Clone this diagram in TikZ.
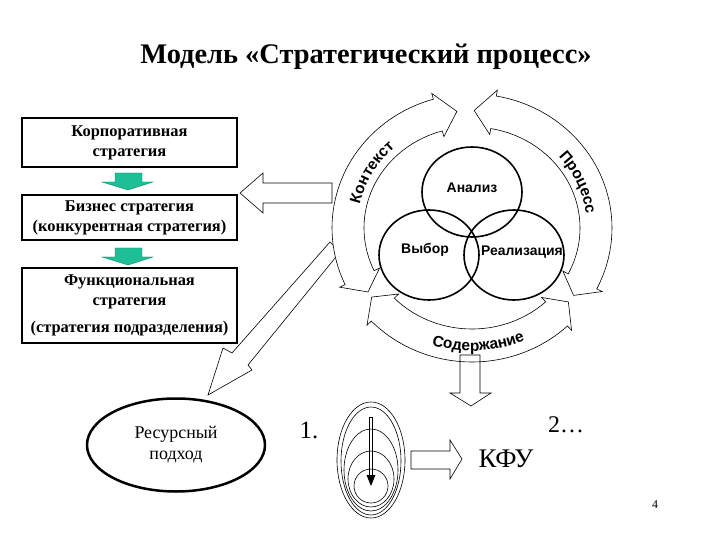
\documentclass[tikz,border=0pt]{standalone}
\usepackage{fontspec}
\setmainfont{Liberation Serif}
\setsansfont{Liberation Sans}
\usetikzlibrary{shapes.geometric,decorations.text}
\definecolor{arrowgreen}{RGB}{30,190,150}
\newcommand{\ringfont}{\sffamily\bfseries\fontsize{15.5}{17}\selectfont}
% double headed band of the ring, angles as seen on the page
\newcommand{\ringarrow}[4]{%
\draw[ringband] (-#1:124 and 117.5) -- (-#2:146 and 140)
  -- plot[domain=#2:#3,samples=40] (-\x:140 and 134)
  -- (-#3:146 and 140) -- (-#4:124 and 117.5) -- (-#3:102 and 95)
  -- plot[domain=#2:#3,samples=40] (-#2-#3+\x:108 and 101)
  -- (-#2:102 and 95) -- cycle;}
\begin{document}
\begin{tikzpicture}[x=1bp,y=-1bp,
  stratbox/.style={draw,line width=2.5bp,minimum width=215bp,align=center,inner sep=0pt,
    font=\fontsize{16.5}{20}\selectfont\bfseries},
  stage/.style={draw,ellipse,line width=1.6bp,minimum width=100bp,minimum height=90bp},
  stagetext/.style={font=\sffamily\bfseries\fontsize{14}{16}\selectfont},
  ringband/.style={draw,fill=white,line width=0.6bp},
  hollow/.style={draw,fill=white,line width=0.6bp},
  greenarrow/.style={fill=arrowgreen,draw=arrowgreen!70!black,line width=0.4bp}]
\useasboundingbox (0,0) rectangle (720,540);
\node[font=\fontsize{28.5}{32}\selectfont\bfseries] (title) at (366,57) {Модель «Стратегический процесс»};
% strategy levels
\node[stratbox,minimum height=49bp] (corp) at (129.5,142.5) {Корпоративная\\стратегия};
\node[stratbox,minimum height=45bp] (bus) at (129.5,217.5) {Бизнес стратегия\\(конкурентная стратегия)};
\node[stratbox,minimum height=75bp] (func) at (129.5,305.5) {Функциональная\\стратегия\\[7bp](стратегия подразделения)};
\foreach \ya in {173,248}{
\draw[greenarrow] (115,\ya) -- (142,\ya) -- (142,\ya+9) -- (153,\ya+9) -- (128,\ya+17)
  -- (102,\ya+9) -- (115,\ya+9) -- cycle;}
% block arrows
\draw[hollow] (240,193) -- (263,173) -- (263,183) -- (332,183) -- (332,203) -- (263,203) -- (263,213) -- cycle;
\draw[hollow] (330,242) -- (232,353) -- (223,348) -- (208,395) -- (252,370) -- (248,365) -- (340,252) -- cycle;
% the ring
\begin{scope}[shift={(472,228)}]
\ringarrow{97}{106}{205}{213}
\ringarrow{-35}{-27}{80}{89}
\ringarrow{216}{224}{313}{321}
\path[decorate,decoration={text along path,text align=center,text={|\ringfont|Контекст}}]
  plot[domain=-185:-115,samples=40] (\x:115 and 109);
\path[decorate,decoration={text along path,text align=center,text={|\ringfont|Процесс}}]
  plot[domain=-60:12,samples=40] (\x:115 and 109);
\path[decorate,decoration={text along path,text align=center,text={|\ringfont|Содержание}}]
  plot[domain=240:306,samples=40] (-\x:130 and 123);
\end{scope}
\node[stage] (anal) at (472,192) {};
\node[stage] (choice) at (429,255) {};
\node[stage] (real) at (514,255) {};
\node[stagetext] (analt) at (472,188) {Анализ};
\node[stagetext] (choicet) at (425,250) {Выбор};
\node[stagetext] (realt) at (522,252) {Реализация};
\draw[hollow,fill=none] (460,355) -- (480,355) -- (480,393) -- (491,393) -- (471,406) -- (450,393) -- (460,393) -- cycle;
% resources and key factors
\node[draw,ellipse,line width=2.5bp,minimum width=178bp,minimum height=93bp,align=center,
  font=\fontsize{18}{21}\selectfont] (res) at (176,445) {Ресурсный\\подход};
\node[font=\fontsize{25}{28}\selectfont] (one) at (309,430) {1.};
\foreach \cy/\rx/\ry in {460/34/58, 461/30/54, 470/27/41, 479/23/28, 486/17/17}{
\draw[line width=0.6bp] (371,\cy) ellipse [x radius=\rx bp, y radius=\ry bp];}
\draw[line width=0.6bp] (369.5,417) rectangle (372.5,476);
\fill (366.5,475) -- (375.5,475) -- (371,486) -- cycle;
\draw[hollow] (411,451) -- (450,451) -- (450,440) -- (462,459) -- (450,479) -- (450,469) -- (411,469) -- cycle;
\node[font=\fontsize{27}{30}\selectfont] (kfu) at (506,459) {КФУ};
\node[font=\fontsize{24}{28}\selectfont] (two) at (566,425) {2…};
\node[font=\fontsize{12}{14}\selectfont] (page) at (655,505) {4};
\end{tikzpicture}
\end{document}
